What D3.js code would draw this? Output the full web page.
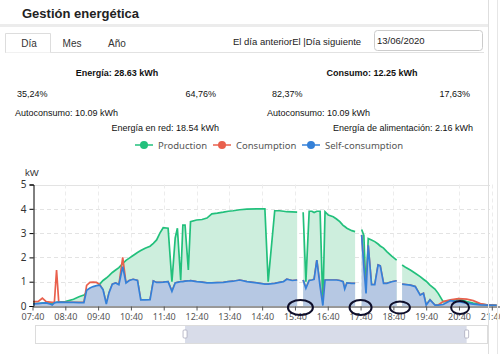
<!DOCTYPE html>
<html>
<head>
<meta charset="utf-8">
<style>
  body { margin: 0; background: #fff; }
  svg text { font-family: "Liberation Sans", Arial, sans-serif; }
  .lg, .tk { font-family: "Noto Sans", sans-serif; }
</style>
</head>
<body>
<script src="https://cdn.jsdelivr.net/npm/d3@7"></script>
<script>
// --- data ---
var times = ["07:40","07:50","07:58","08:05","08:12","08:16","08:20","08:24","08:28","08:40","08:55","09:05","09:14","09:19","09:25","09:31","09:37","09:43","09:49","09:55","10:00","10:06","10:12","10:18","10:25","10:31","10:37","10:44","10:52","10:58","11:06","11:15","11:21","11:27","11:33","11:39","11:48","11:55","12:01","12:05","12:11","12:15","12:19","12:25","12:29","12:40","12:50","12:59","13:08","13:18","13:29","13:38","13:47","13:59","14:12","14:30","14:45","14:51","15:03","15:12","15:19","15:25","15:35","15:44","15:49","15:55","16:00","16:06","16:11","16:15","16:20","16:26","16:31","16:35","16:41","16:50","16:56","17:02","17:08","17:11","17:15","17:24","17:30","17:36","17:42","17:46","17:50","17:54","18:00","18:06","18:12","18:16","18:22","18:28","18:37","18:46","18:51","18:56","19:03","19:11","19:20","19:29","19:35","19:40","19:47","19:56","20:02","20:11","20:24","20:30","20:39","20:54","21:06","21:19","21:31","21:49"];
var production = [0.10,0.10,0.12,0.13,0.12,0.10,0.13,0.15,0.16,0.18,0.28,0.38,0.45,0.55,0.62,0.72,0.80,0.90,1.05,1.15,1.25,1.38,1.48,1.58,1.75,1.88,1.97,2.08,2.20,2.28,2.38,2.46,2.58,2.72,3.00,3.22,3.20,1.00,2.80,3.20,1.07,3.33,3.33,1.48,3.47,3.54,3.56,3.62,3.79,3.82,3.86,3.90,3.92,3.96,3.99,4.00,4.00,1.00,3.92,3.92,3.90,3.88,3.87,3.86,null,3.86,1.00,3.90,3.90,3.85,3.90,3.90,0.02,3.88,3.74,3.67,3.58,3.47,3.32,3.27,3.20,3.10,3.06,null,3.15,2.90,0.60,2.78,2.72,2.65,2.55,2.47,2.38,2.24,2.05,1.89,null,1.69,1.58,1.48,1.35,1.21,1.10,1.02,0.86,0.70,0.52,0.18,0.20,0.22,0.30,0.18,0.12,0.08,0.05,0.03];
var consumption = [0.18,0.18,0.32,0.18,0.16,0.15,0.15,1.48,0.16,0.15,0.15,0.15,0.15,0.85,0.97,0.98,0.97,0.88,0.67,0.08,0.55,0.90,0.95,0.88,2.00,0.95,1.05,1.10,1.05,0.25,0.25,0.26,1.03,0.97,0.97,0.98,1.00,0.60,0.95,0.97,1.00,1.00,1.02,1.03,1.04,1.00,0.98,0.95,0.95,0.96,0.97,1.00,1.02,1.07,1.00,0.95,0.90,0.90,0.93,0.97,1.00,1.10,1.05,1.07,null,1.07,0.73,1.05,1.07,1.10,1.89,0.80,0.02,1.07,1.07,1.07,1.07,1.05,1.00,0.70,0.95,0.93,0.93,null,2.92,1.62,0.52,2.50,0.88,0.88,1.69,1.65,0.93,0.93,1.00,1.04,null,0.90,0.88,0.86,0.80,0.45,0.52,0.04,0.25,0.04,0.04,0.18,0.25,0.27,0.30,0.28,0.22,0.10,0.05,0.03];
var selfConsumption = [0.08,0.10,0.12,0.13,0.08,0.04,0.13,0.15,0.16,0.15,0.15,0.14,0.14,0.65,0.74,0.80,0.84,0.86,0.67,0.08,0.55,0.90,0.95,0.88,1.62,0.95,1.05,1.10,1.05,0.25,0.25,0.26,1.03,0.97,0.97,0.98,1.00,0.60,0.95,0.97,1.00,1.00,1.02,1.03,1.04,1.00,0.98,0.95,0.95,0.96,0.97,1.00,1.02,1.07,1.00,0.95,0.90,0.90,0.93,0.97,1.00,1.10,1.05,1.07,null,1.07,0.73,1.05,1.07,1.10,1.89,0.80,0.02,1.07,1.07,1.07,1.07,1.05,1.00,0.70,0.95,0.93,0.93,null,2.92,1.62,0.52,2.50,0.88,0.88,1.69,1.65,0.93,0.93,1.00,1.04,null,0.90,0.88,0.86,0.80,0.45,0.52,0.04,0.25,0.04,0.04,0.06,0.22,0.20,0.18,0.12,0.08,0.05,0.04,0.03];
var xTicks = ["07:40","08:40","09:40","10:40","11:40","12:40","13:40","14:40","15:40","16:40","17:40","18:40","19:40","20:40","21:40"];
var yTicks = [0,1,2,3,4,5];
var seriesNames = ["Production","Consumption","Self-consumption"];
var seriesColors = ["#22c07c","#e9604d","#3480d8"];
var tabs = ["Día","Mes","Año"];
var marked = ["15:50","17:40","18:52","20:42"];   // circled gaps
var zoomWindow = ["12:19","20:54"];

var width = 500, height = 354;
var parse = function(s) {
  var p = s.split(":");
  return new Date(2020, 5, 13, +p[0], +p[1]);
};

var svg = d3.select("body").append("svg")
  .attr("width", width)
  .attr("height", height);

// header
svg.append("text").attr("x", 22).attr("y", 18)
  .style("font-size", "13px").style("font-weight", "bold").attr("fill", "#222")
  .text("Gestión energética");
svg.append("rect").attr("x", 0).attr("y", 24).attr("width", 488).attr("height", 3).attr("fill", "#ececec");

// tabs
svg.append("line").attr("x1", 5).attr("x2", 484).attr("y1", 52.5).attr("y2", 52.5).attr("stroke", "#e2e2e2");
svg.append("path").attr("d", "M5.5,52.5V33.5H50.5V52.5").attr("fill", "#fff").attr("stroke", "#ddd");
var tabX = [29, 72, 117];
tabs.forEach(function(t, i) {
  svg.append("text").attr("x", tabX[i]).attr("y", 47).attr("text-anchor", "middle")
    .style("font-size", "10px").attr("fill", "#333").text(t);
});
svg.append("text").attr("x", 233).attr("y", 45).style("font-size", "9.5px").attr("fill", "#222")
  .text("El día anteriorEl |Día siguiente");
svg.append("rect").attr("x", 374.5).attr("y", 30.5).attr("width", 108).attr("height", 20).attr("rx", 3)
  .attr("fill", "#fff").attr("stroke", "#ccc");
svg.append("text").attr("x", 377).attr("y", 44).style("font-size", "9.5px").attr("fill", "#222").text("13/06/2020");

// summary texts
var summary = svg.append("g").style("font-size", "9px").attr("fill", "#111");
summary.append("text").attr("x", 117).attr("y", 76).attr("text-anchor", "middle").style("font-weight", "bold").text("Energía: 28.63 kWh");
summary.append("text").attr("x", 17).attr("y", 97).text("35,24%");
summary.append("text").attr("x", 216).attr("y", 97).attr("text-anchor", "end").text("64,76%");
summary.append("text").attr("x", 15).attr("y", 116).text("Autoconsumo: 10.09 kWh");
summary.append("text").attr("x", 219).attr("y", 131).attr("text-anchor", "end").text("Energía en red: 18.54 kWh");
summary.append("text").attr("x", 372).attr("y", 76).attr("text-anchor", "middle").style("font-weight", "bold").text("Consumo: 12.25 kWh");
summary.append("text").attr("x", 272).attr("y", 97).text("82,37%");
summary.append("text").attr("x", 470).attr("y", 97).attr("text-anchor", "end").text("17,63%");
summary.append("text").attr("x", 267).attr("y", 116).text("Autoconsumo: 10.09 kWh");
summary.append("text").attr("x", 473).attr("y", 131).attr("text-anchor", "end").text("Energía de alimentación: 2.16 kWh");

// legend
var legendX = [135, 213, 302];
seriesNames.forEach(function(n, i) {
  var g = svg.append("g").attr("transform", "translate(" + legendX[i] + ",145)");
  g.append("line").attr("x1", 0).attr("x2", 18).attr("stroke", seriesColors[i]).attr("stroke-width", 1.5);
  g.append("circle").attr("cx", 9).attr("r", 4).attr("fill", seriesColors[i]);
  g.append("text").attr("class", "lg").attr("x", 23).attr("y", 3.5)
    .style("font-size", "9.5px").attr("fill", "#555").text(n);
});

// scales
var x = d3.scaleTime().domain([parse("07:40"), parse("21:55")]).range([32.5, 500]);
var y = d3.scaleLinear().domain([0, 5]).range([306, 184.5]);

svg.append("text").attr("x", 25).attr("y", 176).style("font-size", "9.5px").attr("fill", "#333").text("kW");

// grid
svg.append("g").selectAll("line").data(yTicks.slice(1)).join("line")
  .attr("x1", 33).attr("x2", 490)
  .attr("y1", function(d) { return Math.round(y(d)) + 0.5; })
  .attr("y2", function(d) { return Math.round(y(d)) + 0.5; })
  .attr("stroke", "#e3e3e3")
  .attr("stroke-dasharray", function(d) { return d === 5 ? null : "4,3"; });
svg.append("g").selectAll("line").data(xTicks.slice(1)).join("line")
  .attr("x1", function(d) { return Math.round(x(parse(d))) + 0.5; })
  .attr("x2", function(d) { return Math.round(x(parse(d))) + 0.5; })
  .attr("y1", 184.5).attr("y2", 306)
  .attr("stroke", "#ececec").attr("stroke-dasharray", "4,3");

// series
var rows = times.map(function(t, i) {
  return { t: parse(t), p: production[i], c: consumption[i], s: selfConsumption[i] };
});
svg.append("clipPath").attr("id", "plot").append("rect")
  .attr("x", 33).attr("y", 170).attr("width", 467).attr("height", 137);
var plot = svg.append("g").attr("clip-path", "url(#plot)");

function area(key) {
  return d3.area().defined(function(d) { return d[key] != null; })
    .x(function(d) { return x(d.t); }).y0(y(0)).y1(function(d) { return y(d[key]); });
}
function line(key) {
  return d3.line().defined(function(d) { return d[key] != null; })
    .x(function(d) { return x(d.t); }).y(function(d) { return y(d[key]); });
}
plot.append("path").datum(rows).attr("d", area("p")).attr("fill", "#cdeedd");
plot.append("path").datum(rows).attr("d", line("p")).attr("fill", "none")
  .attr("stroke", seriesColors[0]).attr("stroke-width", 1.7);
plot.append("path").datum(rows).attr("d", line("c")).attr("fill", "none")
  .attr("stroke", seriesColors[1]).attr("stroke-width", 1.7);
plot.append("path").datum(rows).attr("d", area("s")).attr("fill", "#b6c8e3");
plot.append("path").datum(rows).attr("d", line("s")).attr("fill", "none")
  .attr("stroke", seriesColors[2]).attr("stroke-width", 1.7);

// axes
var yAxis = svg.append("g").attr("transform", "translate(33.5,0)")
  .call(d3.axisLeft(y).tickValues(yTicks).tickSize(4).tickFormat(d3.format("d")));
yAxis.select(".domain").attr("stroke", "#000");
yAxis.selectAll("text").attr("class", "tk").style("font-size", "10px").attr("fill", "#333");

var xAxis = svg.append("g").attr("transform", "translate(0,306.5)")
  .call(d3.axisBottom(x).tickValues(xTicks.map(parse)).tickSize(4).tickSizeOuter(0)
    .tickFormat(d3.timeFormat("%H:%M")));
xAxis.select(".domain").attr("stroke", "#333");
xAxis.selectAll("line").attr("stroke", "#555");
xAxis.selectAll("text").attr("class", "tk").style("font-size", "9px").attr("fill", "#555").attr("dy", "0.75em");

// zoom slider
svg.append("rect").attr("x", 35.5).attr("y", 325.5).attr("width", 452).attr("height", 18)
  .attr("fill", "#fff").attr("stroke", "#dcdcdc");
var selStart = x(parse(zoomWindow[0])), selEnd = x(parse(zoomWindow[1]));
svg.append("rect").attr("x", selStart).attr("y", 326).attr("width", selEnd - selStart).attr("height", 17)
  .attr("fill", "#d8dce9");
[selStart, selEnd].forEach(function(hx) {
  svg.append("rect").attr("x", hx - 2).attr("y", 330).attr("width", 4).attr("height", 8).attr("rx", 1)
    .attr("fill", "#fff").attr("stroke", "#aab").attr("stroke-width", 0.8);
});

// panel borders
svg.append("line").attr("x1", 488.5).attr("x2", 488.5).attr("y1", 0).attr("y2", height).attr("stroke", "#dedede");
svg.append("line").attr("x1", 497.5).attr("x2", 497.5).attr("y1", 0).attr("y2", height).attr("stroke", "#e6e6e6");

// hand-drawn circles
var ovalR = [[12.5, 7.5], [11, 7.5], [10, 6], [9, 6.5]];
marked.forEach(function(t, i) {
  svg.append("ellipse").attr("cx", x(parse(t))).attr("cy", 307.5)
    .attr("rx", ovalR[i][0]).attr("ry", ovalR[i][1])
    .attr("fill", "none").attr("stroke", "#0e0e2a").attr("stroke-width", 2);
});
</script>
</body>
</html>
